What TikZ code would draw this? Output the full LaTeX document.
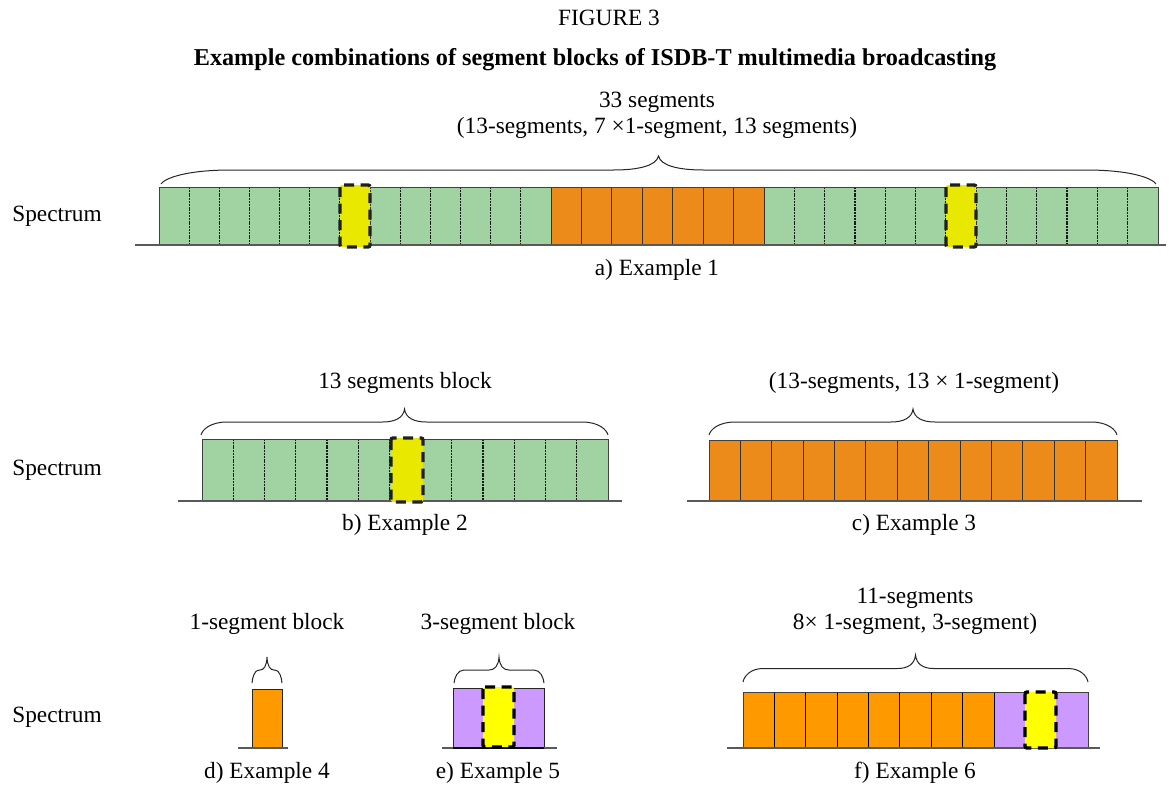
\documentclass[tikz,border=0pt]{standalone}
\usepackage{fontspec}
\setmainfont{Liberation Serif}
\definecolor{segGreen}{HTML}{A1D3A2}
\definecolor{segOrange}{HTML}{EC8A1A}
\definecolor{segOrangeB}{HTML}{FF9900}
\definecolor{segYellow}{HTML}{E8E800}
\definecolor{segYellowB}{HTML}{FFFF00}
\definecolor{segViolet}{HTML}{CC99FF}
% curly brace over a block: left x, right x, y of the ends, height, end-curve run, tip-curve run
\newcommand\spanbrace[6]{%
  \pgfmathsetmacro\sbm{(#1+#2)/2}%
  \pgfmathsetmacro\sbl{#3-0.5*#4}%
  \pgfmathsetmacro\sbt{#3-#4}%
  \draw[bracestyle] (#1,#3)
    .. controls (#1+0.05*#5,\sbl+0.3*#4) and (#1+0.35*#5,\sbl) .. (#1+#5,\sbl)
    -- (\sbm-#6,\sbl)
    .. controls (\sbm-0.45*#6,\sbl) and (\sbm-0.05*#6,\sbl-0.15*#4) .. (\sbm,\sbt)
    .. controls (\sbm+0.05*#6,\sbl-0.15*#4) and (\sbm+0.45*#6,\sbl) .. (\sbm+#6,\sbl)
    -- (#2-#5,\sbl)
    .. controls (#2-0.35*#5,\sbl) and (#2-0.05*#5,\sbl+0.3*#4) .. (#2,#3);
}
\begin{document}
\begin{tikzpicture}[x=1pt,y=-1pt,
  lbl/.style={font=\fontsize{23.3}{26}\selectfont, inner sep=0pt},
  ttl/.style={font=\bfseries\fontsize{24.2}{27}\selectfont, inner sep=0pt},
  outline/.style={draw=black!75, line width=0.9pt},
  solidsep/.style={draw=black!80, line width=0.9pt},
  dotsep/.style={draw=black!90, line width=1.2pt, dash pattern=on 2pt off 0.8pt},
  ground/.style={draw=black!65, line width=1.1pt},
  hotseg/.style={draw=black!88, line width=3.4pt, dash pattern=on 10pt off 6.5pt, rounded corners=2pt},
  bracestyle/.style={draw=black!85, line width=1pt}]
\useasboundingbox (0,0) rectangle (1169,787);

% ---------- headings ----------
\node[lbl] (fig) at (609,18) {FIGURE 3};
\node[ttl] (title) at (595,60) {Example combinations of segment blocks of ISDB-T multimedia broadcasting};

% ---------- example 1: 13 + 7 x 1 + 13 segments ----------
\node[lbl] (s1) at (57,216) {Spectrum};
\fill[segGreen] (159,187) rectangle (551,245);
\fill[segOrange] (551,187) rectangle (764,245);
\fill[segGreen] (764,187) rectangle (1158,245);
\foreach \k in {1,...,12} {
  \draw[dotsep] ({159+\k*392/13},187) -- ++(0,58);
  \draw[dotsep] ({764+\k*394/13},187) -- ++(0,58);
}
\foreach \k in {1,...,6} \draw[solidsep] ({551+\k*213/7},187) -- ++(0,58);
\draw[solidsep] (551,187) -- (551,245) (764,187) -- (764,245);
\draw[outline] (159,187) rectangle (1158,245);
\draw[ground] (135,245) -- (1166,245);
\filldraw[fill=segYellow, hotseg] (340,185) rectangle (370,247);
\filldraw[fill=segYellow, hotseg] (946,185) rectangle (976,247);
\spanbrace{161}{1156}{184}{28}{70}{45}
\node[lbl] (t1a) at (657,102) {33 segments};
\node[lbl] (t1b) at (657,128) {(13-segments, 7 ×1-segment, 13 segments)};
\node[lbl] (c1) at (657,270) {a) Example 1};

% ---------- example 2: one 13-segment block ----------
\node[lbl] (s2) at (57,470) {Spectrum};
\fill[segGreen] (202,439) rectangle (608,501);
\foreach \k in {1,...,12} \draw[dotsep] ({202+\k*406/13},439) -- ++(0,62);
\draw[outline] (202,439) rectangle (608,501);
\draw[ground] (178,501) -- (622,501);
\filldraw[fill=segYellow, hotseg] (391,438) rectangle (423,502);
\spanbrace{201}{608}{435}{26}{26}{22}
\node[lbl] (t2) at (405,383) {13 segments block};
\node[lbl] (c2) at (405,525) {b) Example 2};

% ---------- example 3: 13 x 1 segment ----------
\fill[segOrange] (709,440) rectangle (1117,501);
\foreach \k in {1,...,12} \draw[solidsep] ({709+\k*408/13},440) -- ++(0,61);
\draw[outline] (709,440) rectangle (1117,501);
\draw[ground] (687,501) -- (1142,501);
\spanbrace{709}{1117}{435}{26}{26}{22}
\node[lbl] (t3) at (914,383) {(13-segments, 13 × 1-segment)};
\node[lbl] (c3) at (914,525) {c) Example 3};

% ---------- example 4: single segment ----------
\node[lbl] (s3) at (57,717) {Spectrum};
\fill[segOrangeB] (252,689) rectangle (282,748);
\draw[outline, draw=black!85] (252,689) rectangle (282,748);
\draw[ground] (238,748) -- (288,748);
\spanbrace{252}{282}{683}{26}{7}{7}
\node[lbl] (t4) at (267,624) {1-segment block};
\node[lbl] (c4) at (267,773) {d) Example 4};

% ---------- example 5: 3-segment block ----------
\fill[segViolet] (453,688) rectangle (544,748);
\draw[outline, draw=black!85] (453,688) rectangle (544,748);
\draw[ground] (442,748) -- (557,748);
\draw[draw=black, line width=1.6pt] (453,748) -- (544,748);
\filldraw[fill=segYellowB, hotseg, draw=black] (483,687) rectangle (514,747);
\spanbrace{454}{544}{683}{26}{10}{10}
\node[lbl] (t5) at (498,624) {3-segment block};
\node[lbl] (c5) at (498,773) {e) Example 5};

% ---------- example 6: 8 x 1 segment + 3 segments ----------
\fill[segOrangeB] (743,692) rectangle (994,748);
\fill[segViolet] (994,692) rectangle (1088,748);
\foreach \k in {1,...,8} \draw[solidsep, draw=black] ({743+\k*251/8},692) -- ++(0,56);
\draw[outline] (743,692) rectangle (1088,748);
\draw[ground, line width=2.4pt] (727,748) -- (1100,748);
\filldraw[fill=segYellowB, hotseg, draw=black] (1025,692) rectangle (1056,748);
\spanbrace{743}{1088}{682}{27}{20}{18}
\node[lbl] (t6a) at (915,598) {11-segments};
\node[lbl] (t6b) at (915,624) {8× 1-segment, 3-segment)};
\node[lbl] (c6) at (915,773) {f) Example 6};
\end{tikzpicture}
\end{document}
